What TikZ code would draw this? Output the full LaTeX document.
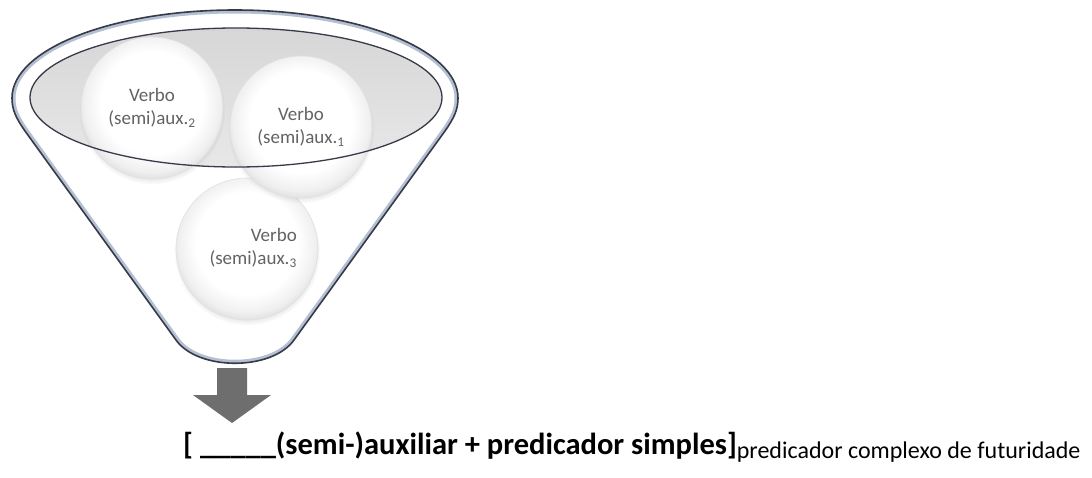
\documentclass[tikz,border=0pt]{standalone}
\usepackage{fontspec}
\setmainfont{Carlito}
\usetikzlibrary{shadows,fadings}

\definecolor{rimdark}{HTML}{363B47}
\definecolor{rimblue}{HTML}{B4BFD3}
\definecolor{labelgray}{HTML}{636363}
\definecolor{arrowgray}{HTML}{6E6E6E}

% white disc with a faint grey rim, lit from above
\pgfdeclareradialshading{disc}{\pgfpoint{0bp}{3bp}}{%
  color(0bp)=(white); color(18bp)=(white); color(24bp)=(black!6);
  color(28bp)=(black!15); color(50bp)=(black!15)}

\tikzset{
  verb/.style={circle, minimum size=142pt, inner sep=0pt, shading=disc,
    draw=black!12, line width=0.6pt,
    circular drop shadow={shadow xshift=0pt, shadow yshift=-3pt,
      shadow scale=1.03, opacity=0.3}},
  verblabel/.style={font=\fontsize{19}{23}\selectfont, text=labelgray, inner sep=0pt},
}

% outline of the funnel: rim on top, straight sides, rounded spout
\def\funnelpath{(176,-340) -- (25,-131) .. controls (16,-118) and (12,-110) .. (12,-98)
  arc[start angle=180, end angle=0, x radius=223, y radius=88]
  .. controls (458,-110) and (454,-118) .. (445,-131) -- (294,-340)
  .. controls (272,-371) and (198,-371) .. (176,-340) -- cycle}

\begin{document}
\begin{tikzpicture}[x=1pt,y=1pt]
\useasboundingbox[fill=white] (0,0) rectangle (1092,-477);

% funnel body
\fill[white] \funnelpath;
\begin{scope}
  \clip \funnelpath;
  \draw[rimblue, line width=7pt] \funnelpath;
\end{scope}
\draw[rimdark, line width=1.6pt, line join=round] \funnelpath;

% grey mouth of the funnel
\fill[top color=black!16, bottom color=black!9]
  (236,-97.5) ellipse [x radius=206, y radius=69.5];

% the three verbs
\node[verb] (c3) at (247,-249) {};
\node[verb] (c2) at (152,-108) {};
\node[verb] (c1) at (301,-127) {};

% rim of the mouth passes over the discs
\draw[rimdark, line width=1.3pt] (236,-97.5) ellipse [x radius=206, y radius=69.5];

\node[verblabel, align=center] (t2) at (c2) {Verbo\\(semi)aux.\textsubscript{2}};
\node[verblabel, align=center] (t1) at (c1) {Verbo\\(semi)aux.\textsubscript{1}};
\node[verblabel, align=right, anchor=east] (t3) at (297,-248) {Verbo\\(semi)aux.\textsubscript{3}};

% block arrow out of the spout
\fill[arrowgray] (217,-368) -- (247,-368) -- (247,-395) -- (271,-395)
  -- (232,-423) -- (193,-395) -- (217,-395) -- cycle;

% resulting construction
\node[anchor=base west, inner sep=0pt] (formula) at (183,-454)
  {\fontsize{30.5}{36}\selectfont\bfseries [ \_\_\_\_\_(semi-)auxiliar + predicador simples]%
   \raisebox{-4pt}{\fontsize{24}{28}\selectfont\mdseries predicador complexo de futuridade}};
\end{tikzpicture}
\end{document}
